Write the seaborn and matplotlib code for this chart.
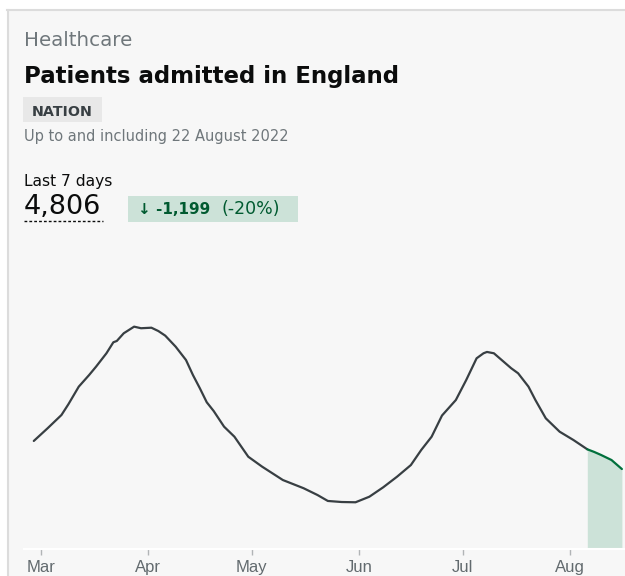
import matplotlib.pyplot as plt
from matplotlib.patches import Rectangle
import pandas as pd
import seaborn as sns

# values (daily admissions, 7-day smoothed look)
dates = ["2022-02-27", "2022-03-03", "2022-03-07", "2022-03-09", "2022-03-12",
         "2022-03-15", "2022-03-17", "2022-03-20", "2022-03-22", "2022-03-23",
         "2022-03-25", "2022-03-28", "2022-03-30", "2022-04-02", "2022-04-04",
         "2022-04-06", "2022-04-09", "2022-04-12", "2022-04-14", "2022-04-16",
         "2022-04-18", "2022-04-20", "2022-04-23", "2022-04-26", "2022-04-30",
         "2022-05-04", "2022-05-10", "2022-05-16", "2022-05-20", "2022-05-23",
         "2022-05-27", "2022-05-31", "2022-06-04", "2022-06-08", "2022-06-12",
         "2022-06-16", "2022-06-19", "2022-06-22", "2022-06-25", "2022-06-29",
         "2022-07-02", "2022-07-05", "2022-07-07", "2022-07-08", "2022-07-10",
         "2022-07-15", "2022-07-17", "2022-07-20", "2022-07-22", "2022-07-25",
         "2022-07-29", "2022-08-02", "2022-08-06"]
admissions = [818, 914, 1014, 1095, 1228,
              1316, 1379, 1480, 1563, 1573,
              1631, 1681, 1669, 1673, 1648,
              1613, 1530, 1429, 1316, 1216,
              1110, 1044, 926, 850, 699,
              624, 523, 461, 410, 365,
              357, 355, 397, 468, 548,
              636, 750, 850, 1010, 1127,
              1278, 1442, 1480, 1490, 1480,
              1367, 1329, 1228, 1127, 989,
              888, 825, 755]

last7_dates = ["2022-08-06", "2022-08-08", "2022-08-10", "2022-08-13", "2022-08-16"]
last7_values = [755, 735, 712, 674, 606]

month_ticks = ["2022-03-01", "2022-04-01", "2022-05-01", "2022-06-01", "2022-07-01", "2022-08-01"]
month_labels = ["Mar", "Apr", "May", "Jun", "Jul", "Aug"]

df = pd.DataFrame({"date": pd.to_datetime(dates), "value": admissions})
recent = pd.DataFrame({"date": pd.to_datetime(last7_dates), "value": last7_values})

W, H = 625, 576
fig = plt.figure(figsize=(W / 100, H / 100), dpi=100)
fig.patch.set_facecolor("white")


def fx(px):
    return px / W


def fy(py):
    return 1 - py / H


# card background and border
fig.patches.append(Rectangle((fx(7), 0), 1, fy(9), transform=fig.transFigure,
                             facecolor="#f7f7f7", edgecolor="none", zorder=-5))
fig.add_artist(plt.Line2D([fx(7), 1], [fy(9.5), fy(9.5)], transform=fig.transFigure,
                          color="#dcdcdc", lw=1.5))
fig.add_artist(plt.Line2D([fx(7.5), fx(7.5)], [0, fy(9.5)], transform=fig.transFigure,
                          color="#dcdcdc", lw=1.5))

font = "DejaVu Sans"

fig.text(fx(24), fy(46), "Healthcare", fontsize=14.3, color="#6f777b",
         family=font, va="baseline")
fig.text(fx(24), fy(83.5), "Patients admitted in England", fontsize=16.5,
         color="#0b0c0c", family=font, fontweight="bold", va="baseline")

fig.patches.append(Rectangle((fx(23), fy(122)), fx(102) - fx(23), fy(97) - fy(122),
                             transform=fig.transFigure, facecolor="#e8e8e8",
                             edgecolor="none"))
fig.text(fx(31.5), fy(115.5), "NATION", fontsize=10.3, color="#383f43", family=font,
         fontweight="bold", va="baseline")
fig.text(fx(24), fy(141.5), "Up to and including 22 August 2022", fontsize=10.5,
         color="#6f777b", family=font, va="baseline")

fig.text(fx(24), fy(186), "Last 7 days", fontsize=11.2, color="#0b0c0c",
         family=font, va="baseline")
fig.text(fx(23.5), fy(214.5), "4,806", fontsize=19.5, color="#0b0c0c", family=font,
         va="baseline")
fig.add_artist(plt.Line2D([fx(24), fx(103)], [fy(221), fy(221)], transform=fig.transFigure,
                          color="#0b0c0c", lw=1, linestyle=(0, (2, 1.5))))

fig.patches.append(Rectangle((fx(128), fy(222)), fx(298) - fx(128), fy(196) - fy(222),
                             transform=fig.transFigure, facecolor="#cce2d8",
                             edgecolor="none"))
fig.text(fx(137.5), fy(213.5), "\u2193 -1,199", fontsize=11, color="#005a30",
         family=font, fontweight="bold", va="baseline")
fig.text(fx(221), fy(213.5), "(-20%)", fontsize=12.5, color="#005a30",
         family=font, va="baseline")

# chart
ax = fig.add_axes([fx(24), fy(549.3), 1 - fx(24), fy(240) - fy(549.3)])
ax.set_facecolor("none")
ax.set_zorder(2)

sns.lineplot(data=df, x="date", y="value", ax=ax, color="#383f43", linewidth=1.6,
             solid_joinstyle="round", solid_capstyle="round")
sns.lineplot(data=recent, x="date", y="value", ax=ax, color="#00703c", linewidth=1.6,
             solid_joinstyle="round", solid_capstyle="round")
ax.fill_between(recent["date"], 0, recent["value"], color="#cce2d8", linewidth=0, zorder=0)

start = pd.Timestamp("2022-03-01")
ax.set_xlim(start + pd.Timedelta(days=-4.83), start + pd.Timedelta(days=168.9))
ax.set_ylim(0, (549.3 - 240) * 7.55)

ax.set_xticks(pd.to_datetime(month_ticks))
ax.set_xticklabels(month_labels)
ax.minorticks_off()
ax.tick_params(axis="x", length=4, width=1, color="#b1b4b6", pad=4,
               labelsize=12, labelcolor="#626a6e")
for lbl in ax.get_xticklabels():
    lbl.set_family("Liberation Sans")
ax.set_yticks([])
ax.set_xlabel("")
ax.set_ylabel("")
for s in ["top", "right", "left"]:
    ax.spines[s].set_visible(False)
ax.spines["bottom"].set_color("white")
ax.spines["bottom"].set_linewidth(1.5)

fig.savefig("out.png", dpi=100)
